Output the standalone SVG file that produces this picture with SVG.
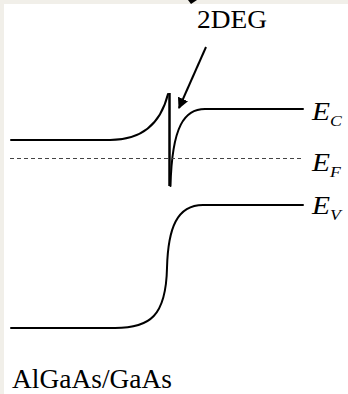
<svg xmlns="http://www.w3.org/2000/svg" width="348" height="394" viewBox="0 0 348 394">
  <defs>
    <style>
      .band { fill: none; stroke: #000; stroke-width: 2; stroke-linecap: round; }
      .fermi { fill: none; stroke: #444; stroke-width: 1; stroke-dasharray: 4 3; }
      .lbl { font-family: "Liberation Serif", "Times New Roman", serif; fill: #000; }
      .it { font-style: italic; }
    </style>
    <marker id="ah" viewBox="0 0 10 10" refX="9" refY="5" markerWidth="11" markerHeight="11" markerUnits="userSpaceOnUse" orient="auto">
      <path d="M0,0 L10,5 L0,10 Z" fill="#000"/>
    </marker>
  </defs>
  <rect x="0" y="0" width="348" height="394" fill="#f1efe9"/>
  <rect x="4" y="4" width="344" height="390" fill="#ffffff"/>
  <polygon points="188,0 197,0 191,4" fill="#000"/>

  <g id="connectors">
    <line x1="206" y1="47" x2="179" y2="108" stroke="#000" stroke-width="2" marker-end="url(#ah)"/>
  </g>

  <g id="conduction-band">
    <path class="band" d="M11,140 L110,140 C140,140 160,126 168,94"/>
    <line x1="169.5" y1="93" x2="169.5" y2="186" stroke="#000" stroke-width="2.5"/>
    <path class="band" d="M170.5,186 C172,125 185,109 205,109 L303,109"/>
  </g>
  <g id="fermi-level">
    <line class="fermi" x1="10" y1="158.5" x2="303" y2="158.5"/>
  </g>
  <g id="valence-band">
    <path class="band" d="M11,328 L115,328 C150,328 166,316 167,268 C168,228 177,205 203,205 L303,205"/>
  </g>

  <g id="label-2deg">
    <text class="lbl" x="197" y="28" font-size="25" textLength="70" lengthAdjust="spacingAndGlyphs">2DEG</text>
  </g>
  <g id="label-ec">
    <text class="lbl it" transform="translate(312,120) scale(1.18,1)" font-size="25">E<tspan font-size="15" dy="6">C</tspan></text>
  </g>
  <g id="label-ef">
    <text class="lbl it" transform="translate(312,171) scale(1.18,1)" font-size="25">E<tspan font-size="15" dy="6">F</tspan></text>
  </g>
  <g id="label-ev">
    <text class="lbl it" transform="translate(312,214) scale(1.18,1)" font-size="25">E<tspan font-size="15" dy="6">V</tspan></text>
  </g>
  <g id="label-material">
    <text class="lbl" x="12" y="388" font-size="27" textLength="160" lengthAdjust="spacingAndGlyphs">AlGaAs/GaAs</text>
  </g>
</svg>
